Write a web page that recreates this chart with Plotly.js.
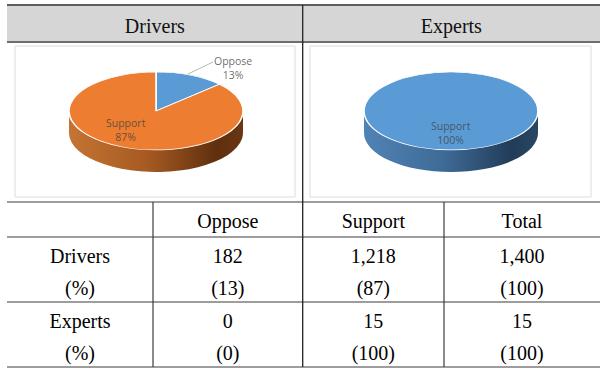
<!DOCTYPE html>
<html><head><meta charset="utf-8">
<script src="https://cdn.plot.ly/plotly-3.0.1.min.js"></script>
<style>
html,body{margin:0;padding:0;background:#fff;}
#wrap{position:relative;width:600px;height:374px;overflow:hidden;background:#fff;}
#chart{position:absolute;left:0;top:0;width:600px;height:374px;z-index:2;}
.pie{position:absolute;transform-origin:0 0;z-index:1;}
</style></head><body>
<div id="wrap">
<div id="pieD" class="pie"></div>
<div id="pieE" class="pie"></div>
<div id="chart"></div>
</div>
<script>
// ---- data ----
const groups = ['Drivers', 'Experts'];
const categories = ['Oppose', 'Support'];
const driversCounts = [182, 1218];
const expertsCounts = [0, 15];
const driversPct = [13, 87];
const expertsPct = [0, 100];
const totals = [1400, 15];
const totalPct = [100, 100];
const rowLabels = ['Drivers', '(%)', 'Experts', '(%)'];
const colHeaders = ['', 'Oppose', 'Support', 'Total'];
const driversColors = ['#5B9BD5', '#ED7D31'];
const expertsColors = ['#5B9BD5', '#5B9BD5'];

// ---- styling / geometry ----
const W = 600, H = 374;
const px = x => x / W, py = y => 1 - y / H;
const serif = 'Liberation Serif, Times New Roman, serif';
const sans = 'Open Sans, Liberation Sans, Arial, sans-serif';
const rx = 87, ry = 39, depth = 22;
const sideGrad = {
  '#ED7D31': [[0, '#c47433'], [0.45, '#a65a22'], [0.85, '#5f2f0e'], [1, '#6a3614']],
  '#5B9BD5': [[0, '#5083b5'], [0.45, '#3f6b97'], [0.85, '#213c58'], [1, '#2a4663']]
};

function drawPie(divId, cx, cy, counts, colors) {
  const sy = ry / rx, D = 2 * rx, d = depth / sy, Hh = D + d;
  const el = document.getElementById(divId);
  el.style.left = (cx - rx) + 'px';
  el.style.top = (cy - ry) + 'px';
  el.style.width = D + 'px';
  el.style.height = Hh + 'px';
  el.style.transform = 'scaleY(' + sy + ')';
  const keep = counts.map((v, i) => v > 0 ? i : -1).filter(i => i >= 0);
  const labels = keep.map(i => categories[i]);
  const values = keep.map(i => counts[i]);
  const cols = keep.map(i => colors[i]);
  let big = 0; values.forEach((v, i) => { if (v > values[big]) big = i; });
  const common = {type: 'pie', labels: labels, values: values, sort: false, direction: 'clockwise',
    rotation: 0, textinfo: 'none', hoverinfo: 'skip', showlegend: false};
  const side = Object.assign({}, common, {domain: {x: [0, 1], y: [0, D / Hh]},
    marker: {colors: cols, line: {width: 0}}});
  const top = Object.assign({}, common, {domain: {x: [0, 1], y: [d / Hh, 1]},
    marker: {colors: cols, line: {color: '#ffffff', width: 1.6}}});
  const layout = {width: D, height: Hh, margin: {l: 0, r: 0, t: 0, b: 0},
    paper_bgcolor: 'rgba(0,0,0,0)', showlegend: false,
    shapes: [{type: 'rect', xref: 'paper', yref: 'paper', x0: 0, x1: 1,
      y0: (Hh - rx - d) / Hh, y1: (Hh - rx) / Hh, line: {width: 0}, fillcolor: cols[big], layer: 'below'}]};
  return Plotly.newPlot(el, [side, top], layout, {staticPlot: true, displayModeBar: false}).then(() => {
    const svg = el.querySelector('svg.main-svg');
    const ns = 'http://www.w3.org/2000/svg';
    let defs = svg.querySelector('defs');
    if (!defs) { defs = document.createElementNS(ns, 'defs'); svg.insertBefore(defs, svg.firstChild); }
    const gid = c => divId + '_g' + c.replace('#', '');
    Object.keys(sideGrad).forEach(c => {
      const g = document.createElementNS(ns, 'linearGradient');
      g.setAttribute('id', gid(c));
      g.setAttribute('x1', '0'); g.setAttribute('x2', '1'); g.setAttribute('y1', '0'); g.setAttribute('y2', '0');
      sideGrad[c].forEach(s => {
        const st = document.createElementNS(ns, 'stop');
        st.setAttribute('offset', s[0]); st.setAttribute('stop-color', s[1]);
        g.appendChild(st);
      });
      defs.appendChild(g);
    });
    const traces = el.querySelectorAll('.pielayer .trace');
    if (traces.length) {
      traces[0].querySelectorAll('path.surface').forEach((p, i) => {
        const c = cols[i] || cols[big];
        if (sideGrad[c]) p.style.fill = 'url(#' + gid(c) + ')';
      });
    }
    el.querySelectorAll('.shapelayer path').forEach(p => {
      if (sideGrad[cols[big]]) p.style.fill = 'url(#' + gid(cols[big]) + ')';
    });
  });
}

drawPie('pieD', 156, 110.8, driversCounts, driversColors);
drawPie('pieE', 451, 110.8, expertsCounts, expertsColors);

// ---- table ----
const fmt = v => v.toLocaleString('en-US');
const colVals = [rowLabels];
categories.forEach((c, i) => colVals.push([fmt(driversCounts[i]), '(' + driversPct[i] + ')',
  fmt(expertsCounts[i]), '(' + expertsPct[i] + ')']));
colVals.push([fmt(totals[0]), '(' + totalPct[0] + ')', fmt(totals[1]), '(' + totalPct[1] + ')']);

const noLine = {width: 0, color: 'rgba(0,0,0,0)'};
const clear = {color: 'rgba(0,0,0,0)'};
const topShift = 4.5, tblShift = 2.5;
const topTable = {
  type: 'table', domain: {x: [px(7), px(600)], y: [py(197 + topShift), py(5 + topShift)]},
  columnwidth: [295.7, 297.3],
  header: {values: groups, height: 37, fill: clear, line: noLine, align: 'center',
    font: {family: serif, size: 20, color: '#111'}},
  cells: {values: [[''], ['']], height: 155, fill: clear, line: noLine}
};
const mainTable = {
  type: 'table', domain: {x: [px(7), px(600)], y: [py(367 + tblShift), py(202 + tblShift)]},
  columnwidth: [146, 149.7, 141.3, 156],
  header: {values: colHeaders, height: 35, fill: clear, line: noLine, align: 'center',
    font: {family: serif, size: 20, color: '#000'}},
  cells: {values: colVals, height: 32.5, fill: clear, line: noLine, align: 'center',
    font: {family: serif, size: 20, color: '#000'}}
};

function hline(y, x0, x1, w, c) {
  return {type: 'line', xref: 'paper', yref: 'paper', x0: px(x0), x1: px(x1), y0: py(y), y1: py(y), line: {width: w, color: c}};
}
function vline(x, y0, y1, w, c) {
  return {type: 'line', xref: 'paper', yref: 'paper', x0: px(x), x1: px(x), y0: py(y0), y1: py(y1), line: {width: w, color: c}};
}
function box(x0, y0, x1, y1, lc, fc, layer) {
  return {type: 'rect', xref: 'paper', yref: 'paper', x0: px(x0), x1: px(x1), y0: py(y1), y1: py(y0),
    line: {width: lc ? 1 : 0, color: lc || 'rgba(0,0,0,0)'}, fillcolor: fc || 'rgba(0,0,0,0)', layer: layer || 'above'};
}
const tl = '#3c3c3c';
const shapes = [
  box(7, 5, 600, 42, null, '#d6d6d6', 'below'),
  box(15, 46, 295, 197, '#dcdcdc'), box(310, 46, 591, 197, '#dcdcdc'),
  hline(5, 7, 600, 2, '#5e5e5e'), hline(42, 7, 600, 2, '#6e6e6e'),
  hline(202, 7, 600, 1.2, tl), hline(237, 7, 600, 1.2, tl), hline(302, 7, 600, 1.2, tl), hline(367, 7, 600, 1.2, tl),
  vline(302.7, 5, 367, 1.3, '#222'), vline(153, 202, 367, 1.2, tl), vline(444, 202, 367, 1.2, tl),
  {type: 'line', xref: 'paper', yref: 'paper', x0: px(188), y0: py(74), x1: px(213), y1: py(62),
    line: {width: 0.8, color: '#a6a6a6'}}
];
const labelFont = {family: sans, size: 10.5, color: 'rgba(64,64,64,0.78)'};
function lab(text, x, y) {
  return {text: text, x: px(x), y: py(y), xref: 'paper', yref: 'paper', showarrow: false,
    xanchor: 'center', yanchor: 'middle', font: labelFont};
}
const annotations = [
  lab(categories[0] + '<br>' + driversPct[0] + '%', 233, 68),
  lab(categories[1] + '<br>' + driversPct[1] + '%', 125.5, 130),
  lab(categories[1] + '<br>' + expertsPct[1] + '%', 451, 132.5)
];

Plotly.newPlot('chart', [topTable, mainTable], {
  width: W, height: H, margin: {l: 0, r: 0, t: 0, b: 0},
  paper_bgcolor: 'rgba(0,0,0,0)', plot_bgcolor: 'rgba(0,0,0,0)',
  shapes: shapes, annotations: annotations, showlegend: false
}, {staticPlot: true, displayModeBar: false});
</script>
</body></html>
